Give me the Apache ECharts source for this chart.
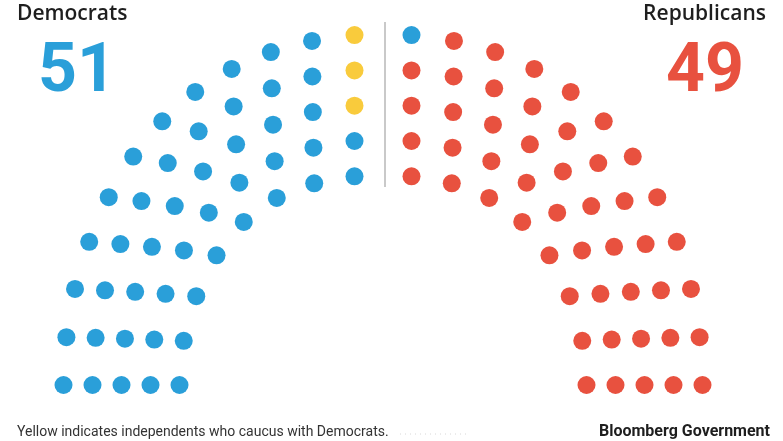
<!DOCTYPE html>
<html>
<head>
<meta charset="utf-8">
<title>Senate seats</title>
<script src="https://cdn.jsdelivr.net/npm/echarts@6/dist/echarts.min.js"></script>
<style>
html, body { margin: 0; padding: 0; background: #fff; }
#chart { width: 783px; height: 441px; }
</style>
</head>
<body>
<div id="chart"></div>
<script>
// seat counts
const parties = ['Democrats', 'Independents', 'Republicans'];
const seatCounts = [48, 3, 49];
const partyColors = ['#2a9fd9', '#f9cb3c', '#e8513f'];
const headlineLabels = ['Democrats', 'Republicans'];
const headlineTotals = [51, 49]; // independents caucus with Democrats
const rowSeats = [16, 18, 20, 22, 24]; // inner arc -> outer arc
const footNote = 'Yellow indicates independents who caucus with Democrats.';
const sourceText = 'Bloomberg Government';

// arc geometry, px units with the origin in the middle of the floor
const innerRx = 203.5, stepRx = 29;
const innerRy = 210, stepRy = 35.25;
const aisle = 28.5; // half gap each side of the divider
const bulge = 10; // the arcs are a bit squarer than an ellipse

function buildSeats () {
  const seats = [];
  rowSeats.forEach((n, row) => {
    const rx = innerRx + stepRx * row;
    const ry = innerRy + stepRy * row;
    const half = n / 2;
    const tEnd = Math.acos(-aisle / rx); // last seat before the aisle
    const step = (Math.PI - tEnd) / (half - 1);
    for (let j = 0; j < half; j++) {
      const t = Math.PI - j * step;
      // left seat and its mirror on the right
      [t, Math.PI - t].forEach(a => {
        const s2 = Math.sin(2 * a);
        seats.push({ t: a, x: rx * Math.cos(a), y: ry * Math.sin(a) + bulge * s2 * s2 });
      });
    }
  });
  // left to right
  return seats.sort((a, b) => b.t - a.t);
}

const seats = buildSeats();
// independents sit at the top of the column next to the aisle
const leftSide = seats.filter(s => s.t > Math.PI / 2);
const indSeats = leftSide.slice(-seatCounts[1]);
const rest = seats.filter(s => indSeats.indexOf(s) < 0);
const groups = [rest.slice(0, seatCounts[0]), indSeats, rest.slice(seatCounts[0])];

const outerTop = innerRy + stepRy * (rowSeats.length - 1);

const headStyle = { fontFamily: 'Open Sans', fontSize: 21, fontWeight: 600, color: '#1e1e1e' };
const bigStyle = { fontFamily: 'Roboto', fontSize: 68, fontWeight: 'bold' };

const chart = echarts.init(document.getElementById('chart'));
chart.setOption({
  animation: false,
  title: [
    { text: headlineLabels[0], left: 17, top: 4, padding: 0, textStyle: headStyle },
    { text: String(headlineTotals[0]), left: 38, top: 40, padding: 0, textStyle: Object.assign({ color: partyColors[0] }, bigStyle) },
    { text: headlineLabels[1], right: 17, top: 4, padding: 0, textStyle: headStyle },
    { text: String(headlineTotals[1]), right: 39, top: 40, padding: 0, textStyle: Object.assign({ color: partyColors[2] }, bigStyle) },
    { text: footNote, left: 17, top: 425, padding: 0, textStyle: { fontFamily: 'Roboto', fontSize: 14, fontWeight: 'normal', color: '#333' } },
    { text: sourceText, right: 13, top: 424, padding: 0, textStyle: { fontFamily: 'Roboto', fontSize: 16, fontWeight: 'bold', color: '#1e1e1e' } }
  ],
  graphic: [
    { type: 'line', shape: { x1: 400, y1: 434, x2: 470, y2: 434 }, style: { stroke: '#d8d8d8', lineWidth: 1, lineDash: [1, 4] } }
  ],
  grid: { left: 0, right: 0, top: 0, bottom: 0, outerBoundsMode: 'none' },
  xAxis: { type: 'value', min: -383, max: 400, show: false },
  yAxis: { type: 'value', min: -56, max: 385, show: false },
  series: groups.map((g, i) => ({
    name: parties[i],
    type: 'scatter',
    symbolSize: 18,
    silent: true,
    itemStyle: { color: partyColors[i], opacity: 1 },
    data: g.map(s => [s.x, s.y]),
    markLine: i === 0 ? {
      silent: true,
      symbol: 'none',
      label: { show: false },
      lineStyle: { color: '#c9c9c9', width: 2, type: 'solid' },
      data: [[{ coord: [2, innerRy - 12] }, { coord: [2, outerTop + 12] }]]
    } : undefined
  }))
});
</script>
</body>
</html>
